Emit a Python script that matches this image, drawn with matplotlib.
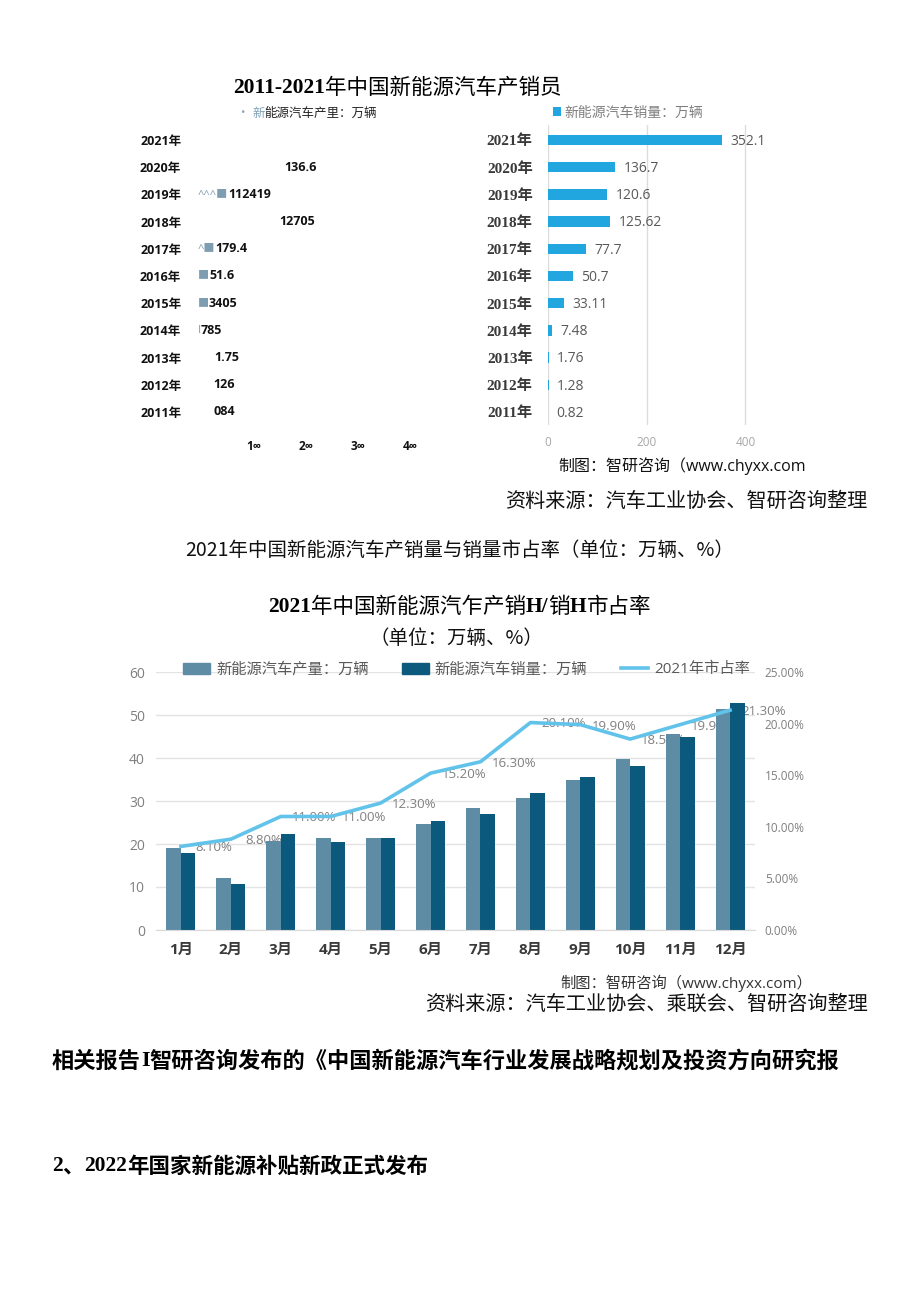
import numpy as np
import matplotlib
matplotlib.use("Agg")
import matplotlib.pyplot as plt
from matplotlib.patches import Patch
from matplotlib.lines import Line2D

plt.rcParams["font.family"] = ["Open Sans", "Noto Sans CJK SC", "DejaVu Sans"]

# ---------------- data ----------------
years = ["2011年", "2012年", "2013年", "2014年", "2015年", "2016年",
         "2017年", "2018年", "2019年", "2020年", "2021年"]
prod_vals = [0.84, 1.26, 1.75, 7.85, 34.05, 51.6, 79.4, 127.05, 124.19, 136.6, 354.5]
prod_labels = ["084", "126", "1.75", "I785", "■3405", "■51.6", "^■179.4",
               "12705", "^^^■112419", "136.6", ""]
sales_vals = [0.82, 1.28, 1.76, 7.48, 33.11, 50.7, 77.7, 125.62, 120.6, 136.7, 352.1]
sales_labels = ["0.82", "1.28", "1.76", "7.48", "33.11", "50.7", "77.7",
                "125.62", "120.6", "136.7", "352.1"]
prod_ticks = [100, 200, 300, 400]
prod_tick_labels = ["1∞", "2∞", "3∞", "4∞"]
sales_ticks = [0, 200, 400]

months = ["1月", "2月", "3月", "4月", "5月", "6月",
          "7月", "8月", "9月", "10月", "11月", "12月"]
month_prod = [19.0, 12.1, 20.6, 21.5, 21.5, 24.6, 28.4, 30.7, 34.9, 39.7, 45.6, 51.5]
month_sales = [17.8, 10.8, 22.4, 20.5, 21.5, 25.4, 27.0, 31.9, 35.5, 38.1, 44.8, 52.9]
share = [8.1, 8.8, 11.0, 11.0, 12.3, 15.2, 16.3, 20.1, 19.9, 18.5, 19.9, 21.3]
left_ticks = [0, 10, 20, 30, 40, 50, 60]
right_ticks = [0.0, 0.05, 0.10, 0.15, 0.20, 0.25]

W, H = 920, 1301
SERIF = ["Liberation Serif", "Noto Sans CJK SC", "DejaVu Sans"]
CJK = ["Noto Sans CJK SC", "DejaVu Sans"]

C_SALES = "#22a6df"
C_PROD2 = "#5e8ca5"
C_SALES2 = "#0b5a7e"
C_LINE = "#62c3ea"


def fx(x):
    return x / W


def fy(y):
    return 1 - y / H


fig = plt.figure(figsize=(W / 100, H / 100), dpi=100)
bg = fig.add_axes([0, 0, 1, 1])
bg.axis("off")
bg.set_xlim(0, 1)
bg.set_ylim(0, 1)


def chain_after(prev, parts, zorder=10):
    # put each text piece right after the previous one
    for s, kw in parts:
        prev = bg.annotate(s, xy=(1, 0.5), xycoords=prev, xytext=(0, 0),
                           textcoords="offset points", ha="left", va="center",
                           zorder=zorder, **kw)
    return prev


def chain(x, y, parts):
    s, kw = parts[0]
    first = bg.text(fx(x), fy(y), s, ha="left", va="center", **kw)
    return chain_after(first, parts[1:])


# -------- titles / captions --------
chain(233, 88, [("2011-2021", dict(family=SERIF, weight="bold", fontsize=15.5)),
                ("年中国新能源汽车产销员", dict(family=CJK, fontsize=15.5))])

chain(237, 113, [("· ", dict(family=CJK, fontsize=9, color="#8aa0b0")),
                 ("新", dict(family=CJK, fontsize=9, color="#7fa2b8")),
                 ("能源汽车产里：万辆", dict(family=CJK, fontsize=9, color="#222222"))])

# -------- left panel (production, bars lost in scan) --------
ax_l = fig.add_axes([fx(202), fy(425), 234 / W, 300 / H])
ax_l.patch.set_visible(False)
ax_l.set_xlim(0, 450)
ax_l.set_ylim(-0.48, 10.55)
for sp in ax_l.spines.values():
    sp.set_visible(False)
ax_l.set_yticks(range(len(years)), years)
ax_l.set_xticks(prod_ticks, prod_tick_labels)
ax_l.tick_params(axis="y", length=0, pad=15, labelsize=9)
ax_l.tick_params(axis="x", length=0, pad=11, labelsize=8.5)
for t in ax_l.get_yticklabels() + ax_l.get_xticklabels():
    t.set_fontweight("bold")
    t.set_color("#111111")

for i, (v, lab) in enumerate(zip(prod_vals, prod_labels)):
    if not lab:
        continue
    k = 0
    while k < len(lab) and not lab[k].isdigit():
        k += 1
    pre, rest = lab[:k], lab[k:]
    if pre:
        t0 = ax_l.annotate(pre, (0, i), xytext=(-3, 0), textcoords="offset points",
                           ha="left", va="center", fontsize=8, color="#7f9db0",
                           annotation_clip=False)
        chain_after(t0, [(rest, dict(fontsize=9, weight="bold", color="#111111"))])
    else:
        ax_l.annotate(rest, (v, i), xytext=(8, 0), textcoords="offset points",
                      ha="left", va="center", fontsize=9, weight="bold",
                      color="#111111", annotation_clip=False)

# -------- right panel (sales) --------
ax_r = fig.add_axes([fx(548), fy(425), 222 / W, 300 / H])
ax_r.patch.set_visible(False)
ax_r.set_xlim(0, 450)
ax_r.set_ylim(-0.48, 10.55)
ax_r.barh(range(len(years)), sales_vals, height=0.38, color=C_SALES,
          label="新能源汽车销量：万辆", zorder=2)
for sp in ax_r.spines.values():
    sp.set_visible(False)
ax_r.set_xticks(sales_ticks)
ax_r.grid(axis="x", color="#dcdcdc", lw=1)
ax_r.set_axisbelow(True)
ax_r.set_yticks(range(len(years)), years)
ax_r.tick_params(axis="y", length=0, pad=11)
ax_r.tick_params(axis="x", length=0, pad=8, labelsize=8.5, labelcolor="#a6a6a6")
for t in ax_r.get_yticklabels():
    t.set_family(SERIF)
    t.set_fontweight("bold")
    t.set_fontsize(11)
    t.set_color("#3a3a3a")
for i, (v, lab) in enumerate(zip(sales_vals, sales_labels)):
    ax_r.annotate(lab, (v, i), xytext=(6, -1), textcoords="offset points",
                  ha="left", va="center", fontsize=10, color="#595959",
                  annotation_clip=False)
ax_r.legend(loc="center left", bbox_to_anchor=(fx(553), fy(113)),
            bbox_transform=fig.transFigure, frameon=False, fontsize=10,
            handlelength=0.55, handleheight=0.55, handletextpad=0.3,
            borderpad=0, borderaxespad=0, labelcolor="#7f7f7f")

bg.text(fx(558), fy(466), "制图：智研咨询（www.chyxx.com", ha="left", va="center",
        fontsize=11.5, color="#111111")
bg.text(fx(505), fy(501), "资料来源：汽车工业协会、智研咨询整理", ha="left",
        va="center", family=CJK, fontsize=14.5, color="#111111")
bg.text(fx(185), fy(550), "2021年中国新能源汽车产销量与销量市占率（单位：万辆、%）",
        ha="left", va="center", family=CJK, fontsize=14, color="#111111")

chain(268, 607, [("2021", dict(family=SERIF, weight="bold", fontsize=15.5)),
                 ("年中国新能源汽乍产销", dict(family=CJK, fontsize=15.5)),
                 ("H/", dict(family=SERIF, weight="bold", fontsize=15.5)),
                 ("销", dict(family=CJK, fontsize=15.5)),
                 ("H", dict(family=SERIF, weight="bold", fontsize=15.5)),
                 ("市占率", dict(family=CJK, fontsize=15.5))])
bg.text(fx(370), fy(638), "（单位：万辆、%）", ha="left", va="center",
        family=CJK, fontsize=14, color="#111111")

# -------- monthly chart --------
ax2 = fig.add_axes([fx(156), fy(930), (755 - 156) / W, (930 - 672) / H])
ax2.patch.set_visible(False)
x = np.arange(len(months))
bw = 0.29
ax2.bar(x - bw / 2, month_prod, width=bw, color=C_PROD2, zorder=2)
ax2.bar(x + bw / 2, month_sales, width=bw, color=C_SALES2, zorder=2)
ax2.set_xlim(-0.5, len(months) - 0.5)
ax2.set_ylim(0, 60)
ax2.set_yticks(left_ticks)
ax2.yaxis.grid(True, color="#e3e3e3", lw=1)
ax2.set_axisbelow(True)
for sp in ["top", "right", "left"]:
    ax2.spines[sp].set_visible(False)
ax2.spines["bottom"].set_color("#d9d9d9")
ax2.set_xticks(x, months)
ax2.tick_params(axis="y", length=0, pad=8, labelsize=10, labelcolor="#7f7f7f")
ax2.tick_params(axis="x", length=0, pad=9, labelsize=11, labelcolor="#3a3a3a")
for t in ax2.get_xticklabels():
    t.set_fontweight("bold")

ax2b = ax2.twinx()
ax2b.set_ylim(0, 0.25)
ax2b.set_yticks(right_ticks, [f"{v:.2%}" for v in right_ticks])
for sp in ax2b.spines.values():
    sp.set_visible(False)
ax2b.tick_params(axis="y", length=0, pad=7, labelsize=8.5, labelcolor="#7f7f7f")
ax2b.plot(x, np.array(share) / 100, color=C_LINE, lw=2.6, zorder=3)

# percentage labels sit under the bars (drawn in the primary axes)
for i, v in enumerate(share):
    ax2.annotate(f"{v:.2f}%", xy=(i, v / 100), xycoords=ax2b.transData,
                 xytext=(24, -1), textcoords="offset points", ha="center",
                 va="center", fontsize=9.5, color="#808080", zorder=1,
                 annotation_clip=False)

handles = [Patch(color=C_PROD2), Patch(color=C_SALES2), Line2D([], [], color=C_LINE, lw=2.6)]
ax2b.legend(handles, ["新能源汽车产量：万辆", "新能源汽车销量：万辆", "2021年市占率"],
            ncol=3, loc="center left", bbox_to_anchor=(fx(183), fy(670)),
            bbox_transform=fig.transFigure, frameon=False, fontsize=11,
            handlelength=1.8, handletextpad=0.35, columnspacing=2.2,
            borderpad=0, borderaxespad=0, labelcolor="#595959")

bg.text(fx(560), fy(983), "制图：智研咨询（www.chyxx.com）", ha="left", va="center",
        fontsize=11, color="#333333")
bg.text(fx(425), fy(1004), "资料来源：汽车工业协会、乘联会、智研咨询整理", ha="left",
        va="center", family=CJK, fontsize=14.5, color="#111111")

chain(52, 1061, [("相关报告", dict(family=CJK, weight="bold", fontsize=16)),
                 ("I", dict(family=SERIF, weight="bold", fontsize=16)),
                 ("智研咨询发布的《中国新能源汽车行业发展战略规划及投资方向研究报",
                  dict(family=CJK, weight="bold", fontsize=16))])
chain(52, 1166, [("2", dict(family=SERIF, weight="bold", fontsize=15.5)),
                 ("、", dict(family=CJK, weight="bold", fontsize=15.5)),
                 ("2022", dict(family=SERIF, weight="bold", fontsize=15.5)),
                 ("年国家新能源补贴新政正式发布", dict(family=CJK, weight="bold", fontsize=15.5))])

fig.savefig("out.png", dpi=100)
